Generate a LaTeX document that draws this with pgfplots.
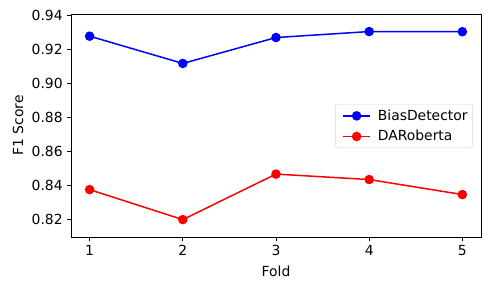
\documentclass[border=0pt]{standalone}
\usepackage{pgfplots}
\pgfplotsset{compat=1.18}
\usepackage{fontspec}
\setmainfont{DejaVu Sans}[Scale=1.39]
\begin{document}
\begin{tikzpicture}
\useasboundingbox (-71pt,-53pt) rectangle (419pt,237pt);
\begin{axis}[
  at={(0pt,0pt)}, anchor=south west,
  scale only axis, width=410pt, height=223pt,
  xmin=0.8, xmax=5.2, ymin=0.8098, ymax=0.9406,
  xtick={1,2,3,4,5},
  ytick={0.82,0.84,0.86,0.88,0.90,0.92,0.94},
  yticklabel style={/pgf/number format/.cd, fixed, fixed zerofill, precision=2},
  /pgf/number format/assume math mode=true,
  tick align=outside, tick pos=left,
  major tick length=3.5pt,
  tick style={black, line width=0.8pt},
  axis line style={line width=0.8pt},
  xlabel={Fold}, ylabel={F1 Score},
  xlabel style={yshift=-1pt},
  ylabel style={yshift=-1pt},
  legend style={at={(rel axis cs:0.98,0.497)}, anchor=east, draw=black!15, rounded corners=2pt, row sep=4pt, inner sep=3pt},
  legend cell align=left,
  legend image code/.code={\path (-4pt,0pt) (32pt,0pt);\draw[line width=1.5pt, mark repeat=2,mark phase=2] plot coordinates {(0pt,0pt)(13.5pt,0pt)(27pt,0pt)};},
]
\addplot[blue, line width=1.5pt, mark=*, mark size=4pt] coordinates {(1,0.9276) (2,0.9116) (3,0.9268) (4,0.9303) (5,0.9302)};
\addlegendentry{BiasDetector}
\addplot[red, line width=1.5pt, mark=*, mark size=4pt] coordinates {(1,0.8376) (2,0.8200) (3,0.8467) (4,0.8435) (5,0.8347)};
\addlegendentry{DARoberta}
\end{axis}
\end{tikzpicture}
\end{document}
